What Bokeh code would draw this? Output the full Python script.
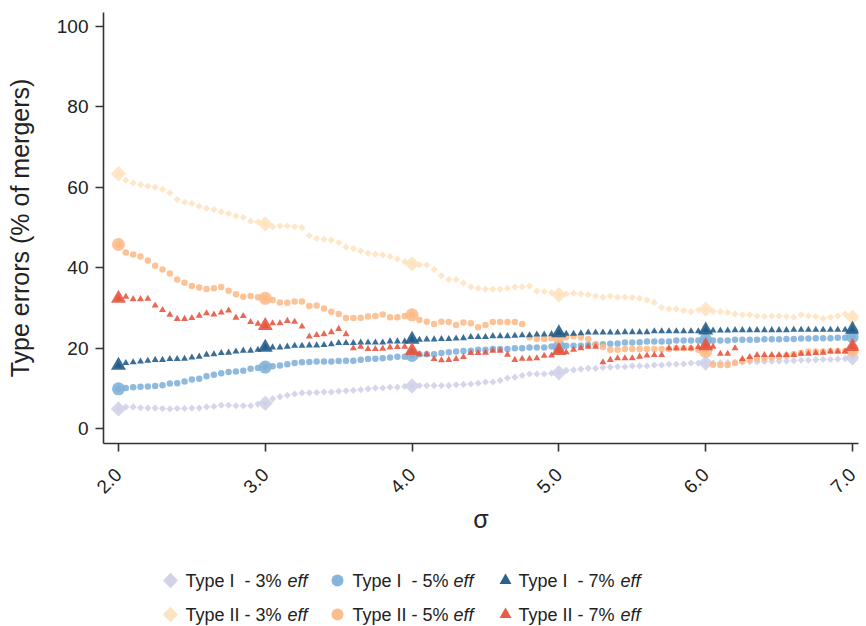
import math
from bokeh.plotting import figure
from bokeh.layouts import column
from bokeh.models import Range1d, FixedTicker, NumeralTickFormatter
from bokeh.embed import file_html
from bokeh.resources import INLINE
from bokeh.core.properties import value

# ---------------- data ----------------
sigma = [2.00, 2.05, 2.10, 2.15, 2.20, 2.25, 2.30, 2.35, 2.40, 2.45, 2.50, 2.55, 2.60, 2.65, 2.70, 2.75, 2.80, 2.85, 2.90, 2.95,
         3.00, 3.05, 3.10, 3.15, 3.20, 3.25, 3.30, 3.35, 3.40, 3.45, 3.50, 3.55, 3.60, 3.65, 3.70, 3.75, 3.80, 3.85, 3.90, 3.95,
         4.00, 4.05, 4.10, 4.15, 4.20, 4.25, 4.30, 4.35, 4.40, 4.45, 4.50, 4.55, 4.60, 4.65, 4.70, 4.75, 4.80, 4.85, 4.90, 4.95,
         5.00, 5.05, 5.10, 5.15, 5.20, 5.25, 5.30, 5.35, 5.40, 5.45, 5.50, 5.55, 5.60, 5.65, 5.70, 5.75, 5.80, 5.85, 5.90, 5.95,
         6.00, 6.05, 6.10, 6.15, 6.20, 6.25, 6.30, 6.35, 6.40, 6.45, 6.50, 6.55, 6.60, 6.65, 6.70, 6.75, 6.80, 6.85, 6.90, 6.95,
         7.00]

type1_3 = [4.9, 5.4, 5.4, 5.2, 5.1, 5.1, 5.0, 4.9, 5.0, 5.0, 5.1, 5.1, 5.4, 5.5, 5.8, 5.8, 5.7, 5.7, 5.7, 6.1, 6.3,
           7.4, 7.9, 8.3, 8.6, 8.9, 8.9, 9.0, 9.1, 9.1, 9.3, 9.4, 9.5, 9.7, 9.9, 10.1, 10.1, 10.3, 10.3, 10.5, 10.6,
           10.7, 10.7, 10.7, 10.7, 10.7, 10.9, 11.0, 11.1, 11.3, 11.6, 11.6, 12.0, 12.6, 12.8, 13.2, 13.6, 13.6, 13.6, 13.8, 13.9,
           14.5, 14.6, 14.8, 15.0, 15.0, 15.2, 15.3, 15.4, 15.4, 15.6, 15.6, 15.6, 15.8, 15.8, 16.0, 16.0, 16.1, 16.3, 16.3, 16.3,
           16.3, 16.4, 16.4, 16.5, 16.5, 16.6, 16.6, 16.7, 16.7, 16.8, 16.8, 16.9, 17.0, 17.0, 17.1, 17.2, 17.2, 17.3, 17.4, 17.6]

type1_5 = [9.9, 10.1, 10.3, 10.4, 10.5, 10.6, 10.8, 11.2, 11.3, 11.7, 12.2, 12.4, 13.0, 13.4, 13.8, 14.1, 14.2, 14.4, 14.9, 15.1, 15.3,
           15.5, 15.7, 16.0, 16.3, 16.5, 16.6, 16.7, 16.7, 16.7, 16.8, 16.9, 16.9, 17.1, 17.3, 17.4, 17.5, 17.7, 17.9, 17.9, 18.2,
           18.5, 18.5, 18.5, 18.8, 19.0, 19.2, 19.3, 19.4, 19.6, 19.6, 19.8, 19.8, 19.8, 20.0, 20.0, 20.2, 20.2, 20.2, 20.4, 20.4,
           20.6, 20.6, 20.6, 20.8, 20.9, 21.0, 21.1, 21.2, 21.4, 21.4, 21.5, 21.7, 21.7, 21.7, 21.7, 21.9, 21.9, 21.9, 21.9, 22.1,
           21.9, 21.9, 21.9, 22.1, 22.1, 22.1, 22.1, 22.2, 22.2, 22.2, 22.3, 22.3, 22.4, 22.4, 22.5, 22.5, 22.5, 22.6, 22.6, 22.9]

type1_7 = [15.7, 16.3, 16.5, 16.7, 16.9, 17.1, 17.1, 17.3, 17.3, 17.4, 17.7, 17.9, 18.4, 18.5, 18.8, 18.9, 19.2, 19.4, 19.4, 19.6, 20.2,
           20.2, 20.2, 20.4, 20.6, 20.6, 20.7, 20.7, 20.8, 21.0, 21.3, 21.3, 21.3, 21.4, 21.4, 21.4, 21.4, 21.7, 21.7, 21.7, 22.2,
           22.1, 22.2, 22.2, 22.3, 22.3, 22.4, 22.5, 22.8, 22.8, 22.8, 23.0, 23.0, 23.0, 23.1, 23.2, 23.2, 23.4, 23.4, 23.5, 23.8,
           23.6, 23.6, 23.7, 23.9, 23.9, 23.9, 23.9, 23.9, 24.0, 24.0, 24.0, 24.0, 24.2, 24.2, 24.2, 24.2, 24.2, 24.2, 24.2, 24.5,
           24.4, 24.4, 24.4, 24.5, 24.5, 24.5, 24.5, 24.5, 24.5, 24.5, 24.5, 24.6, 24.6, 24.6, 24.6, 24.6, 24.6, 24.6, 24.6, 24.7]

type2_3 = [63.4, 61.8, 61.1, 60.7, 60.3, 60.0, 59.5, 58.6, 57.0, 56.3, 56.0, 55.3, 54.8, 54.5, 53.9, 53.5, 52.9, 52.5, 51.6, 51.4, 50.9,
           50.2, 50.4, 50.4, 50.2, 50.0, 48.0, 47.3, 47.1, 46.9, 46.3, 45.2, 44.8, 44.2, 43.6, 43.4, 43.2, 42.8, 42.2, 41.5, 41.0,
           40.8, 40.7, 39.6, 38.0, 37.1, 37.1, 36.2, 35.3, 34.9, 34.7, 34.7, 34.7, 34.9, 35.2, 35.3, 35.5, 34.2, 34.1, 33.8, 33.3,
           33.5, 33.7, 33.5, 33.3, 33.0, 32.7, 33.0, 32.7, 32.7, 32.6, 32.4, 32.0, 31.4, 30.1, 29.8, 29.8, 29.4, 29.1, 29.5, 29.7,
           29.2, 29.1, 28.9, 28.5, 28.3, 28.3, 28.0, 27.9, 28.0, 28.0, 27.9, 27.7, 28.3, 28.0, 27.9, 27.4, 27.7, 28.0, 28.5, 27.7]

type2_5 = [45.8, 43.8, 43.3, 42.8, 41.8, 40.5, 39.6, 38.6, 37.1, 36.3, 35.5, 35.1, 34.7, 34.9, 35.2, 34.3, 33.4, 32.8, 33.0, 32.7, 32.4,
           32.0, 31.4, 31.3, 31.6, 31.6, 30.5, 30.6, 29.9, 29.1, 28.5, 27.5, 27.5, 27.6, 27.9, 28.0, 28.4, 27.7, 27.7, 28.0, 28.3,
           27.0, 26.6, 26.0, 26.6, 26.5, 25.8, 26.4, 26.2, 25.2, 25.8, 26.5, 26.5, 26.5, 26.5, 26.0, 22.7, 22.3, 22.3, 22.5, 22.8,
           22.7, 23.0, 22.7, 22.3, 21.0, 20.3, 19.6, 19.6, 19.8, 19.8, 19.8, 19.8, 19.8, 19.8, 19.8, 20.0, 20.0, 20.0, 19.6, 19.2,
           15.9, 15.8, 15.8, 16.3, 16.8, 17.1, 17.4, 17.5, 17.7, 17.9, 18.2, 18.5, 18.8, 19.2, 19.2, 19.2, 19.3, 19.3, 19.3, 19.5]

type2_7 = [32.4, 32.8, 32.2, 32.2, 32.3, 30.6, 29.5, 28.3, 27.3, 27.3, 27.5, 28.1, 28.7, 28.4, 28.9, 29.4, 27.6, 28.0, 26.5, 26.1, 25.6,
           26.2, 26.2, 26.8, 26.6, 25.4, 22.9, 23.3, 23.5, 24.0, 24.8, 23.5, 20.0, 20.4, 19.8, 19.8, 19.9, 20.2, 20.3, 20.4, 19.4,
           18.5, 18.5, 17.3, 17.0, 17.1, 17.3, 17.8, 18.8, 18.8, 18.9, 19.4, 19.4, 18.4, 17.1, 17.4, 17.4, 17.5, 18.1, 18.2, 19.4,
           19.0, 19.6, 20.0, 20.4, 20.4, 16.5, 17.1, 17.5, 17.5, 17.5, 17.9, 18.2, 18.3, 18.3, 20.0, 20.0, 20.0, 20.0, 20.3, 20.6,
           20.4, 18.6, 18.6, 20.0, 17.3, 17.8, 18.3, 18.3, 18.3, 18.3, 18.3, 18.3, 18.6, 18.6, 18.8, 18.9, 19.2, 19.2, 19.2, 20.4]

x_ticks = [2, 3, 4, 5, 6, 7]
y_ticks = [0, 20, 40, 60, 80, 100]

series_types = ["Type I\u00a0 - ", "Type I\u00a0 - ", "Type I\u00a0 - ", "Type II - ", "Type II - ", "Type II - "]
series_eff = ["3%", "5%", "7%", "3%", "5%", "7%"]
series_values = [type1_3, type1_5, type1_7, type2_3, type2_5, type2_7]

for s in series_values:
    assert len(s) == len(sigma), len(s)

# ---------------- styles ----------------
colors = ["#d0d0e8", "#80b1d9", "#1f5a88", "#fee2bf", "#fdba87", "#e5533d"]
shapes = ["diamond", "circle", "triangle", "diamond", "circle", "triangle"]
FONT = "Liberation Sans"
TXT = "#222222"

W = 866
MAIN_H = 548
LEG_H = 78
LEFT = 103
RIGHT = 8


def draw(fig, x, y, shape, color, size, alpha=0.88):
    if shape == "diamond":
        fig.scatter(x, y, marker="square", angle=math.pi / 4, size=size * 0.72,
                    fill_color=color, fill_alpha=alpha, line_color=None)
    else:
        fig.scatter(x, y, marker=shape, size=size,
                    fill_color=color, fill_alpha=alpha, line_color=None)


p = figure(width=W, height=MAIN_H,
           x_range=Range1d(1.898, 7.041), y_range=Range1d(-3.7, 103.5),
           output_backend="svg", toolbar_location=None,
           min_border_left=LEFT, min_border_right=RIGHT, min_border_top=12,
           min_border_bottom=MAIN_H - 443)
p.xgrid.visible = False
p.ygrid.visible = False
p.outline_line_color = None

big_idx = [i for i, s in enumerate(sigma) if abs(s - round(s)) < 1e-9]
small_size = {"diamond": 7, "circle": 6.5, "triangle": 7}
big_size = {"diamond": 15, "circle": 13, "triangle": 15}
draw_order = [0, 3, 1, 4, 2, 5]
for k in draw_order:
    vals = series_values[k]
    draw(p, sigma, vals, shapes[k], colors[k], small_size[shapes[k]])
    draw(p, [sigma[i] for i in big_idx], [vals[i] for i in big_idx], shapes[k], colors[k], big_size[shapes[k]])

for ax in (p.xaxis, p.yaxis):
    ax.axis_line_color = "#333333"
    ax.axis_line_width = 1.6
    ax.major_tick_line_color = "#333333"
    ax.major_tick_line_width = 1.6
    ax.major_tick_out = 8
    ax.major_tick_in = 0
    ax.minor_tick_line_color = None
    ax.major_label_text_font = FONT
    ax.major_label_text_font_size = "19px"
    ax.major_label_text_color = TXT
    ax.axis_label_text_font = FONT
    ax.axis_label_text_font_size = "25px"
    ax.axis_label_text_font_style = "normal"
    ax.axis_label_text_color = TXT

p.xaxis.ticker = FixedTicker(ticks=x_ticks)
p.xaxis.formatter = NumeralTickFormatter(format="0.0")
p.xaxis.major_label_orientation = math.pi / 4
p.xaxis.major_label_standoff = 20
p.xaxis.axis_label = "σ"
p.xaxis.axis_label_standoff = 3

p.yaxis.ticker = FixedTicker(ticks=y_ticks)
p.yaxis.major_label_standoff = 7
p.yaxis.axis_label = "Type errors (% of mergers)"
p.yaxis.axis_label_standoff = 20

# ---------------- legend (coordinates = picture pixels) ----------------
lg = figure(width=W, height=LEG_H, x_range=Range1d(LEFT, W - RIGHT),
            y_range=Range1d(MAIN_H + LEG_H, MAIN_H),
            output_backend="svg", toolbar_location=None,
            min_border_left=LEFT, min_border_right=RIGHT, min_border_top=0, min_border_bottom=0)
lg.xaxis.visible = False
lg.yaxis.visible = False
lg.xgrid.visible = False
lg.ygrid.visible = False
lg.outline_line_color = None

col_marker = [170, 337, 505]
col_text = [185, 352, 518]
col_eff = [287, 453, 620]
row_y = [580, 614]
legend_sizes = {"diamond": 15, "circle": 12, "triangle": 12}
for k in range(6):
    c, r = k % 3, k // 3
    draw(lg, [col_marker[c]], [row_y[r]], shapes[k], colors[k], legend_sizes[shapes[k]], alpha=0.95)
    lg.text(x=[col_text[c]], y=[row_y[r]], text=[series_types[k] + series_eff[k]],
            text_font=value(FONT), text_font_size="18px", text_color=TXT,
            text_baseline="middle", text_align="left")
    lg.text(x=[col_eff[c]], y=[row_y[r]], text=["eff"],
            text_font=value(FONT), text_font_size="18px", text_font_style="italic",
            text_color=TXT, text_baseline="middle", text_align="left")

layout = column(p, lg)
open("out.html", "w").write(file_html(layout, INLINE))
